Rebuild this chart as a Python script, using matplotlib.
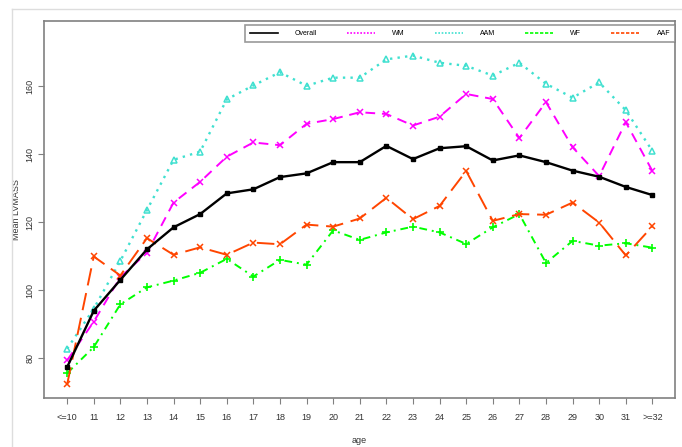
import matplotlib.pyplot as plt
from matplotlib.lines import Line2D

plt.rcParams['font.family'] = ['Liberation Sans', 'DejaVu Sans']

ages = ['<=10', '11', '12', '13', '14', '15', '16', '17', '18', '19', '20',
        '21', '22', '23', '24', '25', '26', '27', '28', '29', '30', '31', '>=32']

overall = [77.3, 93.9, 103.0, 112.0, 118.5, 122.4, 128.5, 129.7, 133.3, 134.4, 137.7, 137.7,
           142.5, 138.6, 141.8, 142.4, 138.2, 139.7, 137.7, 135.2, 133.4, 130.4, 128.0]
wm = [79.3, 90.7, 103.8, 111.0, 125.8, 131.9, 139.3, 143.5, 142.7, 149.0, 150.4, 152.4,
      151.9, 148.5, 151.1, 157.8, 156.3, 144.8, 155.4, 142.1, 133.6, 149.5, 135.1]
aam = [82.7, 94.5, 108.6, 123.6, 138.4, 140.8, 156.2, 160.3, 164.2, 160.2, 162.6, 162.6,
       168.0, 169.1, 167.0, 166.1, 163.2, 167.0, 160.8, 156.7, 161.2, 153.0, 141.0]
wf = [75.5, 83.2, 95.8, 100.8, 102.8, 105.1, 109.2, 104.0, 108.9, 107.5, 117.6, 114.8,
      117.0, 118.7, 117.0, 113.6, 118.5, 122.4, 108.0, 114.5, 113.1, 113.8, 112.5]
aaf = [72.2, 109.9, 104.3, 115.3, 110.4, 112.6, 110.4, 114.0, 113.5, 119.3, 118.7, 121.1,
       127.2, 120.9, 124.8, 135.1, 120.4, 122.4, 122.2, 125.8, 119.9, 110.2, 118.8]

c_wm = '#ff00ff'
c_aam = '#40e0d0'
c_wf = '#00ff00'
c_aaf = '#ff4500'

W, H = 682, 447
fig = plt.figure(figsize=(W / 100, H / 100), dpi=100)
ax = fig.add_axes([44 / W, 1 - 398 / H, (675 - 44) / W, (398 - 21) / H])

x = list(range(len(ages)))
ax.plot(x, aam, color=c_aam, ls=(0, (1, 2.2)), lw=1.7, marker='^', ms=4.5,
        mfc='none', mec=c_aam, mew=1.1)
ax.plot(x, wm, color=c_wm, ls=(0, (5, 3.5)), lw=1.4, marker='x', ms=4, mew=1.1)
ax.plot(x, wf, color=c_wf, ls=(0, (4, 2.5, 1, 2.5)), lw=1.4, marker='+', ms=5.5, mew=1.2)
ax.plot(x, aaf, color=c_aaf, ls=(0, (9, 4)), lw=1.4, marker='x', ms=4, mew=1.1)
ax.plot(x, overall, color='black', ls='-', lw=1.7, marker='s', ms=2.8)

ax.set_xlim(-0.87, 22.85)
ax.set_ylim(68.2, 179.3)
ax.set_xticks(x)
ax.set_xticklabels(ages)
ax.set_yticks([80, 100, 120, 140, 160])
ax.set_yticklabels(['80', '100', '120', '140', '160'], rotation=90, va='center')

for s in ax.spines.values():
    s.set_color('#808080')
    s.set_linewidth(1.2)
ax.tick_params(axis='both', direction='out', length=4, width=0.8, color='#808080',
               labelsize=6.5, labelcolor='#333333')
ax.tick_params(axis='x', pad=7)
ax.tick_params(axis='y', pad=3)

ax.set_xlabel('age', fontsize=6.5, color='#333333', labelpad=10)
ax.set_ylabel('Mean LVMASS', fontsize=6.5, color='#333333')
ax.yaxis.set_label_coords(-0.036, 0.5)

handles = [
    Line2D([], [], color='black', lw=1.2, ls='-'),
    Line2D([], [], color=c_wm, lw=1.2, ls=(0, (1, 1))),
    Line2D([], [], color=c_aam, lw=1.2, ls=(0, (1, 1))),
    Line2D([], [], color=c_wf, lw=1.2, ls=(0, (2, 1))),
    Line2D([], [], color=c_aaf, lw=1.2, ls=(0, (2, 1))),
]
leg = fig.legend(handles, ['Overall', 'WM', 'AAM', 'WF', 'AAF'], ncol=5,
                 loc='lower left', mode='expand',
                 bbox_to_anchor=(245 / W, 1 - 42 / H, 430 / W, 21 / H),
                 fontsize=5, frameon=True, fancybox=False, handlelength=4,
                 handletextpad=2.5, borderaxespad=0, borderpad=0.7)
leg.get_frame().set_edgecolor('#808080')
leg.get_frame().set_linewidth(1.2)

# light outer frame
fig.add_artist(Line2D([12 / W, 12 / W], [0, 1 - 9 / H], color='#dddddd', lw=1))
fig.add_artist(Line2D([12 / W, 1], [1 - 9 / H, 1 - 9 / H], color='#dddddd', lw=1))

fig.savefig('out.png', dpi=100)
